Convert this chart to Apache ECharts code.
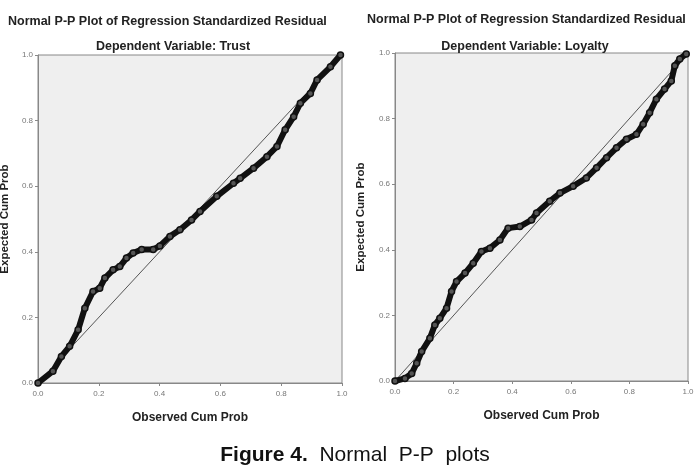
<!DOCTYPE html>
<html>
<head>
<meta charset="utf-8">
<script src="https://cdn.jsdelivr.net/npm/echarts@6/dist/echarts.min.js"></script>
<style>
  html, body { margin: 0; padding: 0; background: #fff; }
  #chart { width: 700px; height: 468px; }
</style>
</head>
<body>
<div id="chart"></div>
<script>
// 观测累计概率 / 期望累计概率 (Trust)
var trustObs = [0, 0.049, 0.077, 0.104, 0.132, 0.154, 0.181, 0.203, 0.220, 0.247, 0.269, 0.291, 0.313, 0.341, 0.379, 0.401, 0.434, 0.467, 0.505, 0.533, 0.588, 0.643, 0.665, 0.709, 0.753, 0.786, 0.813, 0.841, 0.863, 0.896, 0.918, 0.962, 0.995];
var trustExp = [0, 0.036, 0.081, 0.112, 0.162, 0.228, 0.279, 0.289, 0.320, 0.345, 0.355, 0.381, 0.396, 0.407, 0.407, 0.418, 0.447, 0.467, 0.497, 0.523, 0.569, 0.609, 0.624, 0.655, 0.690, 0.721, 0.772, 0.812, 0.853, 0.883, 0.924, 0.964, 1.0];
// Loyalty
var loyaltyObs = [0, 0.034, 0.057, 0.074, 0.091, 0.119, 0.136, 0.153, 0.176, 0.193, 0.210, 0.239, 0.267, 0.295, 0.324, 0.358, 0.386, 0.426, 0.466, 0.483, 0.528, 0.563, 0.608, 0.653, 0.688, 0.722, 0.756, 0.790, 0.824, 0.847, 0.869, 0.892, 0.920, 0.943, 0.955, 0.972, 0.994];
var loyaltyExp = [0, 0.008, 0.023, 0.054, 0.090, 0.130, 0.171, 0.191, 0.222, 0.273, 0.303, 0.329, 0.359, 0.395, 0.405, 0.430, 0.466, 0.471, 0.491, 0.512, 0.548, 0.573, 0.594, 0.619, 0.650, 0.681, 0.711, 0.737, 0.752, 0.783, 0.818, 0.859, 0.890, 0.915, 0.961, 0.982, 0.997];
// 参考线
var diagonal = [[0, 0], [1, 1]];

var mainTitle = 'Normal P-P Plot of Regression Standardized Residual';
var subTitles = ['Dependent Variable: Trust', 'Dependent Variable: Loyalty'];
var xName = 'Observed Cum Prob';
var yName = 'Expected Cum Prob';

function pairs(xs, ys) {
  return xs.map(function (x, i) { return [x, ys[i]]; });
}

function makeAxis(idx, name, gap, labelMargin, nameSize) {
  return {
    gridIndex: idx,
    type: 'value',
    min: 0,
    max: 1,
    interval: 0.2,
    name: name,
    nameLocation: 'middle',
    nameGap: gap,
    nameTextStyle: { fontFamily: 'Liberation Sans', fontWeight: 'bold', fontSize: nameSize, color: '#222' },
    axisLine: { show: true, lineStyle: { color: '#888', width: 1 } },
    axisTick: { show: true, length: 3, lineStyle: { color: '#888' } },
    axisLabel: {
      fontFamily: 'Liberation Sans',
      fontSize: 8,
      color: '#777',
      margin: labelMargin,
      formatter: function (v) { return v.toFixed(1); }
    },
    splitLine: { show: false }
  };
}

function pointSeries(idx, data) {
  return {
    type: 'line',
    xAxisIndex: idx,
    yAxisIndex: idx,
    data: data,
    symbol: 'circle',
    symbolSize: 6,
    showSymbol: true,
    lineStyle: { color: '#111', width: 6 },
    itemStyle: { color: '#555', borderColor: '#111', borderWidth: 1.5 },
    z: 3,
    silent: true
  };
}

function refSeries(idx) {
  return {
    type: 'line',
    xAxisIndex: idx,
    yAxisIndex: idx,
    data: diagonal,
    symbol: 'none',
    lineStyle: { color: '#555', width: 1 },
    z: 2,
    silent: true
  };
}

var titleFont = { fontFamily: 'Liberation Sans', fontWeight: 'bold', fontSize: 12.5, color: '#222' };

var chart = echarts.init(document.getElementById('chart'));
chart.setOption({
  animation: false,
  backgroundColor: '#fff',
  title: [
    { text: mainTitle, left: 3, top: 10, textStyle: titleFont },
    { text: subTitles[0], left: 168, top: 35, textAlign: 'center', textStyle: titleFont },
    { text: mainTitle, left: 362, top: 8, textStyle: titleFont },
    { text: subTitles[1], left: 520, top: 35, textAlign: 'center', textStyle: titleFont },
    {
      text: '{b|Figure 4.}  Normal  P-P  plots',
      left: 350,
      top: 440,
      textAlign: 'center',
      textStyle: {
        fontFamily: 'Liberation Sans',
        fontWeight: 'normal',
        fontSize: 21,
        color: '#111',
        rich: { b: { fontFamily: 'Liberation Sans', fontWeight: 'bold', fontSize: 21, color: '#111' } }
      }
    }
  ],
  grid: [
    { left: 38, top: 55, width: 304, height: 328, outerBoundsMode: 'none', containLabel: false, show: true, backgroundColor: '#efefef', borderColor: '#888', borderWidth: 1 },
    { left: 395, top: 53, width: 293, height: 328, outerBoundsMode: 'none', containLabel: false, show: true, backgroundColor: '#efefef', borderColor: '#888', borderWidth: 1 }
  ],
  xAxis: [makeAxis(0, xName, 29, 7, 12), makeAxis(1, xName, 29, 7, 12)],
  yAxis: [makeAxis(0, yName, 27, 5, 11.5), makeAxis(1, yName, 28, 5, 11.5)],
  series: [
    refSeries(0),
    pointSeries(0, pairs(trustObs, trustExp)),
    refSeries(1),
    pointSeries(1, pairs(loyaltyObs, loyaltyExp))
  ]
});
</script>
</body>
</html>
